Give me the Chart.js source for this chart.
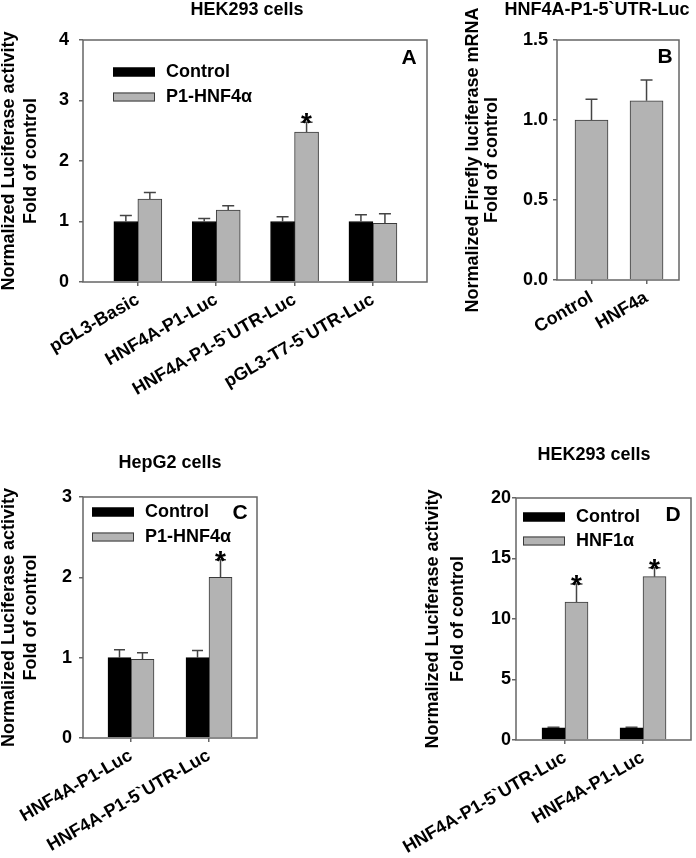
<!DOCTYPE html>
<html>
<head>
<meta charset="utf-8">
<script src="https://cdn.jsdelivr.net/npm/chart.js@4.4.1/dist/chart.umd.min.js"></script>
<style>
  html, body { margin: 0; padding: 0; background: #fff; width: 696px; height: 858px; overflow: hidden; position: relative; }
  canvas { position: absolute; }
</style>
</head>
<body>
<canvas id="chartA"></canvas>
<canvas id="chartB"></canvas>
<canvas id="chartC"></canvas>
<canvas id="chartD"></canvas>
<script>
// panel A - HEK293 cells, P1-HNF4α
const labelsA = ['pGL3-Basic', 'HNF4A-P1-Luc', 'HNF4A-P1-5`UTR-Luc', 'pGL3-T7-5`UTR-Luc'];
const controlA = [1.0, 1.0, 1.0, 1.0];
const controlErrA = [0.10, 0.05, 0.08, 0.11];
const hnf4aA = [1.37, 1.19, 2.48, 0.97];
const hnf4aErrA = [0.11, 0.07, 0.16, 0.16];
const sigA = [false, false, true, false];
const yTicksA = [0, 1, 2, 3, 4];

// panel B - firefly luciferase mRNA
const labelsB = ['Control', 'HNF4a'];
const mrnaB = [1.0, 1.12];
const mrnaErrB = [0.13, 0.13];
const yTicksB = [0, 0.5, 1.0, 1.5];

// panel C - HepG2 cells
const labelsC = ['HNF4A-P1-Luc', 'HNF4A-P1-5`UTR-Luc'];
const controlC = [1.0, 1.0];
const controlErrC = [0.10, 0.09];
const hnf4aC = [0.98, 2.0];
const hnf4aErrC = [0.08, 0.22];
const sigC = [false, true];
const yTicksC = [0, 1, 2, 3];

// panel D - HEK293 cells, HNF1α
const labelsD = ['HNF4A-P1-5`UTR-Luc', 'HNF4A-P1-Luc'];
const controlD = [1.0, 1.0];
const controlErrD = [0.05, 0.05];
const hnf1aD = [11.4, 13.5];
const hnf1aErrD = [1.5, 0.74];
const sigD = [true, true];
const yTicksD = [0, 5, 10, 15, 20];

const FONT = "'Liberation Sans', Arial, Helvetica, sans-serif";
const EDGE = '#666666';
const BLACK = '#000000';
const GRAY = '#b3b3b3';

function series(label, values, errs, sig, color, border, thick) {
    return {
        label: label,
        data: values.map((v, i) => ({ x: i, y: v })),
        errors: errs,
        sig: sig || [],
        backgroundColor: color,
        borderColor: border,
        borderWidth: 1,
        barThickness: thick
    };
}

// error bars, stars, frame, legend, panel letter and title
const decoPlugin = {
    id: 'deco',
    afterDatasetsDraw(chart, args, o) {
        const { ctx, chartArea: a } = chart;
        const y = chart.scales.y;
        ctx.save();
        chart.data.datasets.forEach((ds, di) => {
            chart.getDatasetMeta(di).data.forEach((bar, i) => {
                const top = y.getPixelForValue(ds.data[i].y + ds.errors[i]);
                ctx.strokeStyle = '#444';
                ctx.lineWidth = 1.5;
                ctx.beginPath();
                ctx.moveTo(bar.x, bar.y);
                ctx.lineTo(bar.x, top);
                ctx.moveTo(bar.x - o.cap / 2, top);
                ctx.lineTo(bar.x + o.cap / 2, top);
                ctx.stroke();
                if (ds.sig[i]) {
                    ctx.fillStyle = '#000';
                    ctx.font = `bold 28px ${FONT}`;
                    ctx.textAlign = 'center';
                    ctx.textBaseline = 'alphabetic';
                    ctx.fillText('*', bar.x, top + 10);
                }
            });
        });

        ctx.strokeStyle = EDGE;
        ctx.lineWidth = 1.5;
        ctx.strokeRect(a.left, a.top, a.right - a.left, a.bottom - a.top);

        ctx.fillStyle = '#000';
        ctx.textBaseline = 'middle';
        if (o.legend) {
            chart.data.datasets.forEach((ds, di) => {
                const lx = o.legend[0] - o.ox, ly = o.legend[1] - o.oy + di * o.legend[2];
                ctx.fillStyle = ds.backgroundColor;
                ctx.fillRect(lx, ly - 4.5, 42, 9);
                ctx.strokeStyle = ds.borderColor;
                ctx.lineWidth = 1;
                ctx.strokeRect(lx + 0.5, ly - 4, 41, 8);
                ctx.fillStyle = '#000';
                ctx.font = `bold 18px ${FONT}`;
                ctx.textAlign = 'left';
                ctx.fillText(ds.label, lx + 53, ly);
            });
        }

        ctx.font = `bold 21px ${FONT}`;
        ctx.textAlign = 'center';
        ctx.fillText(o.letter[0], o.letter[1] - o.ox, o.letter[2] - o.oy);

        ctx.font = `bold 18px ${FONT}`;
        ctx.fillText(o.title[0], o.title[1] - o.ox, o.title[2] - o.oy);
        ctx.restore();
    }
};

function panel(id, p) {
    const [cx, cy, cw, ch] = p.canvas;
    const [l, t, r, b] = p.area;
    const cv = document.getElementById(id);
    cv.width = cw;
    cv.height = ch;
    cv.style.left = cx + 'px';
    cv.style.top = cy + 'px';

    const tickFont = { family: FONT, size: 18, weight: 'bold' };
    const marks = { display: true, drawOnChartArea: false, drawTicks: true, tickLength: 4, color: EDGE, lineWidth: 1.5, offset: false };

    new Chart(cv, {
        type: 'bar',
        data: { datasets: p.datasets },
        plugins: [decoPlugin],
        options: {
            responsive: false,
            animation: false,
            events: [],
            layout: { padding: { left: 0, top: t - cy, right: cx + cw - r, bottom: 0 } },
            plugins: {
                legend: { display: false },
                tooltip: { enabled: false },
                deco: { ox: cx, oy: cy, cap: p.cap, legend: p.legend, letter: p.letter, title: p.title }
            },
            scales: {
                x: {
                    type: 'linear',
                    offset: false,
                    bounds: 'data',
                    min: p.xRange[0],
                    max: p.xRange[1],
                    afterBuildTicks: s => { s.ticks = p.labels.map((_, i) => ({ value: i })); },
                    afterFit: s => { s.height = cy + ch - b; s.paddingLeft = 0; s.paddingRight = 0; },
                    grid: marks,
                    border: { display: false },
                    ticks: {
                        autoSkip: false, minRotation: 30, maxRotation: 30, padding: 3,
                        color: '#000', font: tickFont,
                        callback: v => p.labels[v] ?? ''
                    }
                },
                y: {
                    min: 0,
                    max: p.yTicks[p.yTicks.length - 1],
                    afterBuildTicks: s => { s.ticks = p.yTicks.map(v => ({ value: v })); },
                    afterFit: s => { s.width = l - cx; s.paddingTop = 0; s.paddingBottom = 0; },
                    grid: marks,
                    border: { display: false },
                    ticks: {
                        padding: p.tickPad, color: '#000', font: tickFont,
                        callback: v => p.decimals ? v.toFixed(1) : v
                    },
                    title: {
                        display: true,
                        text: p.yTitle,
                        color: '#000',
                        font: { family: FONT, size: 18, weight: 'bold', lineHeight: p.yTitleLH },
                        padding: { top: p.yTitlePad, bottom: 0 }
                    }
                }
            }
        }
    });
}

panel('chartA', {
    canvas: [-10, 0, 447, 410],
    area: [83, 40, 427, 282],
    xRange: [-0.70, 3.69],
    labels: labelsA,
    yTicks: yTicksA,
    tickPad: 10,
    yTitle: ['Normalized Luciferase activity', 'Fold of control'],
    yTitleLH: 1.24,
    yTitlePad: 8,
    cap: 12,
    legend: [113, 72, 25],
    letter: ['A', 409, 58],
    title: ['HEK293 cells', 247, 10],
    datasets: [
        series('Control', controlA, controlErrA, null, BLACK, BLACK, 24),
        series('P1-HNF4α', hnf4aA, hnf4aErrA, sigA, GRAY, '#3a3a3a', 24)
    ]
});

panel('chartB', {
    canvas: [450, 0, 246, 410],
    area: [557, 40, 679, 280],
    xRange: [-0.627, 1.59],
    labels: labelsB,
    yTicks: yTicksB,
    decimals: true,
    tickPad: 5,
    yTitle: ['Normalized Firefly luciferase mRNA', 'Fold of control'],
    yTitleLH: 1.04,
    yTitlePad: 14,
    cap: 12,
    legend: null,
    letter: ['B', 665, 57],
    title: ['HNF4A-P1-5`UTR-Luc', 597, 10],
    datasets: [
        series('mRNA', mrnaB, mrnaErrB, null, GRAY, '#3a3a3a', 33)
    ]
});

panel('chartC', {
    canvas: [-10, 440, 310, 418],
    area: [83, 497, 257, 738],
    xRange: [-0.615, 1.615],
    labels: labelsC,
    yTicks: yTicksC,
    tickPad: 7,
    yTitle: ['Normalized Luciferase activity', 'Fold of control'],
    yTitleLH: 1.24,
    yTitlePad: 8,
    cap: 11,
    legend: [92, 512, 25],
    letter: ['C', 240, 513],
    title: ['HepG2 cells', 170, 463],
    datasets: [
        series('Control', controlC, controlErrC, null, BLACK, BLACK, 23),
        series('P1-HNF4α', hnf4aC, hnf4aErrC, sigC, GRAY, '#3a3a3a', 23)
    ]
});

panel('chartD', {
    canvas: [395, 440, 301, 418],
    area: [516, 498, 691, 740],
    xRange: [-0.628, 1.615],
    labels: labelsD,
    yTicks: yTicksD,
    tickPad: 1,
    yTitle: ['Normalized Luciferase activity', 'Fold of control'],
    yTitleLH: 1.39,
    yTitlePad: 26,
    cap: 12,
    legend: [523, 517, 24],
    letter: ['D', 673, 515],
    title: ['HEK293 cells', 594, 455],
    datasets: [
        series('Control', controlD, controlErrD, null, BLACK, BLACK, 23),
        series('HNF1α', hnf1aD, hnf1aErrD, sigD, GRAY, '#3a3a3a', 23)
    ]
});
</script>
</body>
</html>
